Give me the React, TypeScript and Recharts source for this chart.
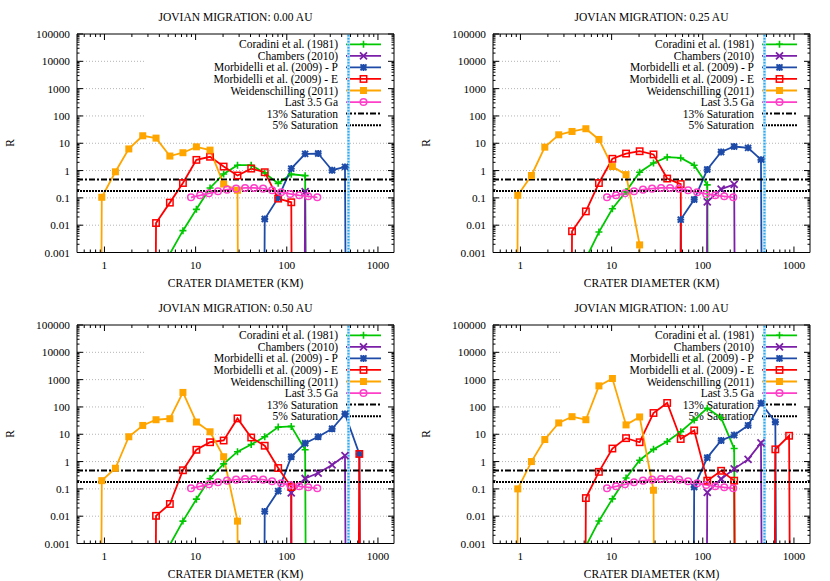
import React from 'react';
import { LineChart, Line, XAxis, YAxis, ReferenceLine, Legend } from 'recharts';

// empty bin: the curve falls through the floor of the log plot
const OFF = 1e-100;
const _ = null;

// crater diameter bins (km)
const diameters = [0.66, 0.935, 1.32, 1.85, 2.63, 3.68, 5.22, 7.26, 10.2, 14.4, 20.3, 28.8, 40.7, 57.3, 80.5, 112, 159, 221, 314, 435, 625, 885, 1250];

// observed curve, finer bins, same in every panel
const lastDiameters = [8.9, 11.2, 14.0, 17.6, 22.1, 27.8, 34.9, 43.8, 55.0, 69.1, 86.8, 109, 137, 172, 216];
const lastValues = [0.105, 0.124, 0.147, 0.174, 0.2, 0.218, 0.231, 0.231, 0.218, 0.19, 0.16, 0.139, 0.124, 0.114, 0.105];

// 0.00 AU
const coradini00 = [_, _, _, _, _, _, 0.0009, 0.0063, 0.038, 0.23, 0.75, 1.57, 1.57, 0.82, 0.34, 0.73, 0.65, OFF, _, _, _, _, _];
const chambers00 = [_, _, _, _, _, _, _, _, _, _, _, _, _, _, _, OFF, 0.17, OFF, _, _, _, _, _];
const morbP00 = [_, _, _, _, _, _, _, _, _, _, _, _, OFF, 0.0168, 0.1, 1.18, 4.1, 4.2, 1.03, 1.36, OFF, _, _];
const morbE00 = [_, _, _, _, OFF, 0.012, 0.067, 0.35, 2.46, 3.2, 1.4, 0.66, 1.18, 0.87, 0.094, 0.069, OFF, _, _, _, _, _, _];
const weid00 = [OFF, 0.105, 0.9, 6.2, 18.8, 15.4, 3.4, 4.5, 7.4, 5.6, 0.32, 0.19, OFF, _, _, _, _, _, _, _, _, _, _];

// 0.25 AU
const coradini25 = [_, _, _, _, _, _, 0.0006, 0.0056, 0.04, 0.17, 0.87, 1.9, 3.1, 2.9, 1.57, 0.3, OFF, _, _, _, _, _, _];
const chambers25 = [_, _, _, _, _, _, _, _, _, _, _, _, _, _, OFF, 0.071, 0.21, 0.31, OFF, _, _, _, _];
const morbP25 = [_, _, _, _, _, _, _, _, _, _, _, _, OFF, 0.016, 0.087, 1.09, 4.8, 7.6, 6.8, 2.5, OFF, _, _];
const morbE25 = [_, _, _, _, OFF, 0.006, 0.032, 0.35, 2.7, 4.2, 5.1, 3.9, 0.51, 0.32, OFF, _, _, _, _, _, _, _, _];
const weid25 = [OFF, 0.124, 0.66, 7.2, 20.4, 27, 34, 13.8, 1.4, 0.71, 0.0019, OFF, _, _, _, _, _, _, _, _, _, _, _];

// 0.50 AU
const coradini50 = [_, _, _, _, _, _, 0.0009, 0.0066, 0.042, 0.24, 0.82, 2.3, 4.2, 8.1, 18.3, 19.4, 2.7, OFF, _, _, _, _, _];
const chambers50 = [_, _, _, _, _, _, _, _, _, _, _, _, _, _, OFF, 0.072, 0.24, 0.38, 0.75, 1.66, OFF, _, _];
const morbP50 = [_, _, _, _, _, _, _, _, _, _, _, _, OFF, 0.015, 0.083, 1.5, 4.7, 8.1, 15.9, 55, 1.9, OFF, _];
const morbE50 = [_, _, _, _, OFF, 0.0103, 0.028, 0.48, 2.7, 5.1, 5.9, 38, 7.6, 3.8, 0.58, 0.117, OFF, OFF, OFF, OFF, 1.9, OFF, _];
const weid50 = [OFF, 0.2, 0.57, 8.1, 21, 34, 37, 340, 28, 12.3, 1.5, 0.0066, OFF, _, _, _, _, _, _, _, _, _, _];

// 1.00 AU
const coradini100 = [_, _, _, _, _, _, 0.0008, 0.0067, 0.043, 0.25, 1.12, 2.8, 5.4, 12.3, 33, 90, 40, 3.0, OFF, _, _, _, _];
const chambers100 = [_, _, _, _, _, _, _, _, _, _, _, _, _, _, OFF, 0.074, 0.23, 0.54, 1.2, 4.8, OFF, _, _];
const morbP100 = [_, _, _, _, _, _, _, _, _, _, _, _, _, OFF, 0.117, 1.4, 5.9, 9.3, 21, 138, 28, OFF, _];
const morbE100 = [_, _, _, _, _, OFF, 0.046, 0.42, 3.0, 7.2, 5.1, 60, 140, 6.7, 13.8, 0.2, 0.46, 0.2, OFF, OFF, 2.8, 8.8, OFF];
const weid100 = [OFF, 0.1, 1.0, 6.4, 26, 44, 34, 590, 1100, 22, 43, 0.089, OFF, _, _, _, _, _, _, _, _, _, _];

const saturation13 = 0.47;
const saturation5 = 0.18;
const jovianLimit = 475;

const xTicks = [1, 10, 100, 1000];
const yTicks = [0.001, 0.01, 0.1, 1, 10, 100, 1000, 10000, 100000];

const steps = [2, 3, 4, 5, 6, 7, 8, 9];
const xMinor = [0.1, 1, 10, 100, 1000].flatMap((d) => steps.map((m) => m * d)).filter((v) => v > 0.5 && v < 1500);
const yMinor = [0.001, 0.01, 0.1, 1, 10, 100, 1000, 10000].flatMap((d) => steps.map((m) => m * d));

const X_DOMAIN = [0.5, 1500];
const Y_DOMAIN = [0.001, 100000];
const FONT = '"Liberation Serif", "Times New Roman", serif';

type Shape = 'plus' | 'cross' | 'star' | 'square' | 'filled' | 'circle';

const SERIES: { name: string; color: string; shape: Shape }[] = [
  { name: 'Coradini et al. (1981)', color: '#00c800', shape: 'plus' },
  { name: 'Chambers (2010)', color: '#7b1fa8', shape: 'cross' },
  { name: 'Morbidelli et al. (2009) - P', color: '#1e4ba8', shape: 'star' },
  { name: 'Morbidelli et al. (2009) - E', color: '#ff0000', shape: 'square' },
  { name: 'Weidenschilling (2011)', color: '#ffa500', shape: 'filled' },
];
const LAST = { name: 'Last 3.5 Ga', color: '#ff3fc8', shape: 'circle' as Shape };

const PANELS = [
  { title: 'JOVIAN MIGRATION: 0.00 AU', left: 0, top: 0, values: [coradini00, chambers00, morbP00, morbE00, weid00] },
  { title: 'JOVIAN MIGRATION: 0.25 AU', left: 416, top: 0, values: [coradini25, chambers25, morbP25, morbE25, weid25] },
  { title: 'JOVIAN MIGRATION: 0.50 AU', left: 0, top: 291, values: [coradini50, chambers50, morbP50, morbE50, weid50] },
  { title: 'JOVIAN MIGRATION: 1.00 AU', left: 416, top: 291, values: [coradini100, chambers100, morbP100, morbE100, weid100] },
];

const lastData = lastDiameters.map((d, i) => ({ d, r: lastValues[i] }));

function marker(shape: Shape, x: number, y: number, c: string) {
  const s = 3.5;
  switch (shape) {
    case 'plus':
      return <path d={`M${x - s},${y}H${x + s}M${x},${y - s}V${y + s}`} stroke={c} strokeWidth={1.6} fill="none" />;
    case 'cross':
      return <path d={`M${x - s},${y - s}L${x + s},${y + s}M${x - s},${y + s}L${x + s},${y - s}`} stroke={c} strokeWidth={1.8} fill="none" />;
    case 'star':
      return (
        <path
          d={`M${x - s},${y}H${x + s}M${x},${y - s}V${y + s}M${x - 3},${y - 3}L${x + 3},${y + 3}M${x - 3},${y + 3}L${x + 3},${y - 3}`}
          stroke={c}
          strokeWidth={1.9}
          fill="none"
        />
      );
    case 'square':
      return <rect x={x - 3.2} y={y - 3.2} width={6.4} height={6.4} stroke={c} strokeWidth={1.5} fill="none" />;
    case 'filled':
      return <rect x={x - 3.5} y={y - 3.5} width={7} height={7} fill={c} />;
    default:
      return <circle cx={x} cy={y} r={3.3} stroke={c} strokeWidth={1.5} fill="none" />;
  }
}

const makeDot = (shape: Shape, color: string) => (p: any) => {
  const v = p.payload ? p.payload.r : null;
  if (v == null || v < 0.001 || p.cx == null || p.cy == null) return <g key={`e${p.index}`} />;
  return <g key={`m${p.index}`}>{marker(shape, p.cx, p.cy, color)}</g>;
};

const blank = () => '';

const KeyBox = () => {
  const rows = [...SERIES, LAST];
  const rowY = (i: number) => 9.3 + i * 11.55;
  return (
    <svg width={248} height={96} style={{ display: 'block', fontFamily: FONT, fontSize: 11.5 }}>
      <rect width={248} height={96} fill="#fff" />
      {rows.map((s, i) => (
        <g key={s.name}>
          <text x={193} y={rowY(i)} textAnchor="end" dominantBaseline="central" fill="#000" fontFamily={FONT}>
            {s.name}
          </text>
          <line x1={201} x2={236} y1={rowY(i)} y2={rowY(i)} stroke={s.color} strokeWidth={1.8} />
          {marker(s.shape, 218.5, rowY(i), s.color)}
        </g>
      ))}
      <text x={193} y={rowY(6)} textAnchor="end" dominantBaseline="central" fill="#000" fontFamily={FONT}>
        13% Saturation
      </text>
      <line x1={201} x2={236} y1={rowY(6)} y2={rowY(6)} stroke="#000" strokeWidth={2} strokeDasharray="6 2 2 2" />
      <text x={193} y={rowY(7)} textAnchor="end" dominantBaseline="central" fill="#000" fontFamily={FONT}>
        5% Saturation
      </text>
      <line x1={201} x2={236} y1={rowY(7)} y2={rowY(7)} stroke="#000" strokeWidth={2} strokeDasharray="2 1" />
    </svg>
  );
};

const axisCommon = { scale: 'log' as const, allowDataOverflow: true, interval: 0 as const, stroke: '#000' };
const tickText = { fill: '#000', fontSize: 11.3, fontFamily: FONT };

function Panel({ title, left, top, values }: { title: string; left: number; top: number; values: (number | null)[][] }) {
  return (
    <div style={{ position: 'absolute', left, top, width: 415, height: 291, isolation: 'isolate', fontFamily: FONT, fontSize: 11.5, color: '#000' }}>
      <div style={{ position: 'absolute', left: 77, width: 317, top: 10, lineHeight: '14px', textAlign: 'center' }}>{title}</div>
      <div style={{ position: 'absolute', left: 4, top: 136, width: 12, lineHeight: '14px', textAlign: 'center', transform: 'rotate(-90deg)' }}>R</div>
      <LineChart width={415} height={291} margin={{ top: 33, right: 20, bottom: 0.5, left: 17 }} style={{ fontFamily: FONT }}>
        <XAxis
          {...axisCommon}
          type="number"
          dataKey="d"
          domain={X_DOMAIN}
          ticks={xTicks}
          tickSize={-6}
          tickMargin={14}
          height={38}
          tick={tickText}
          label={{ value: 'CRATER DIAMETER (KM)', position: 'insideBottom', offset: 3.5, fill: '#000', fontSize: 11.5, fontFamily: FONT }}
        />
        <XAxis {...axisCommon} xAxisId="bmin" type="number" dataKey="d" domain={X_DOMAIN} mirror height={10} ticks={xMinor} tickFormatter={blank} tickSize={3} axisLine={false} />
        <XAxis {...axisCommon} xAxisId="top" orientation="top" type="number" dataKey="d" domain={X_DOMAIN} height={1} ticks={xTicks} tickFormatter={blank} tickSize={-6} />
        <XAxis {...axisCommon} xAxisId="tmin" orientation="top" type="number" dataKey="d" domain={X_DOMAIN} mirror height={10} ticks={xMinor} tickFormatter={blank} tickSize={3} axisLine={false} />
        <YAxis
          {...axisCommon}
          type="number"
          domain={Y_DOMAIN}
          ticks={yTicks}
          tickFormatter={(v: number) => String(v)}
          tickSize={-6}
          tickMargin={13}
          width={60}
          tick={tickText}
        />
        <YAxis {...axisCommon} yAxisId="lmin" type="number" domain={Y_DOMAIN} mirror width={10} ticks={yMinor} tickFormatter={blank} tickSize={2.5} axisLine={false} />
        <YAxis {...axisCommon} yAxisId="right" orientation="right" type="number" domain={Y_DOMAIN} width={1} ticks={yTicks} tickFormatter={blank} tickSize={-6} />
        <YAxis {...axisCommon} yAxisId="rmin" orientation="right" type="number" domain={Y_DOMAIN} mirror width={10} ticks={yMinor} tickFormatter={blank} tickSize={2.5} axisLine={false} />

        {[0.01, 0.1, 1, 10].map((g) => (
          <ReferenceLine key={`g${g}`} y={g} stroke="#b4b4b4" strokeDasharray="1 2" />
        ))}
        {[100, 1000, 10000].map((g) => (
          <ReferenceLine key={`s${g}`} segment={[{ x: 0.5, y: g }, { x: 2.75, y: g }]} stroke="#b4b4b4" strokeDasharray="1 2" />
        ))}

        <Legend
          layout="vertical"
          align="center"
          verticalAlign="middle"
          wrapperStyle={{ left: 145, top: 35, width: 248, height: 96, zIndex: -1 }}
          content={() => <KeyBox />}
        />

        {SERIES.map((s, k) => (
          <Line
            key={s.name}
            name={s.name}
            data={diameters.map((d, i) => ({ d, r: values[k][i] }))}
            dataKey="r"
            type="linear"
            stroke={s.color}
            strokeWidth={1.8}
            dot={makeDot(s.shape, s.color)}
            activeDot={false}
            isAnimationActive={false}
          />
        ))}
        <Line
          name={LAST.name}
          data={lastData}
          dataKey="r"
          type="linear"
          stroke={LAST.color}
          strokeWidth={1.8}
          dot={makeDot(LAST.shape, LAST.color)}
          activeDot={false}
          isAnimationActive={false}
        />

        <ReferenceLine y={saturation13} stroke="#000" strokeWidth={2} strokeDasharray="6 2 2 2" />
        <ReferenceLine y={saturation5} stroke="#000" strokeWidth={2} strokeDasharray="2 1" />
        <ReferenceLine x={jovianLimit} stroke="#b8e4fb" strokeWidth={3} />
        <ReferenceLine x={jovianLimit} stroke="#2fa8ee" strokeWidth={2} strokeDasharray="1.5 1.5" />
      </LineChart>
    </div>
  );
}

export default function App() {
  return (
    <div style={{ position: 'absolute', left: 0, top: 0, width: 830, height: 581 }}>
      <style>{`.recharts-wrapper text, .recharts-text { font-family: ${FONT}; }`}</style>
      {PANELS.map((p) => (
        <Panel key={p.title} title={p.title} left={p.left} top={p.top} values={p.values} />
      ))}
    </div>
  );
}
